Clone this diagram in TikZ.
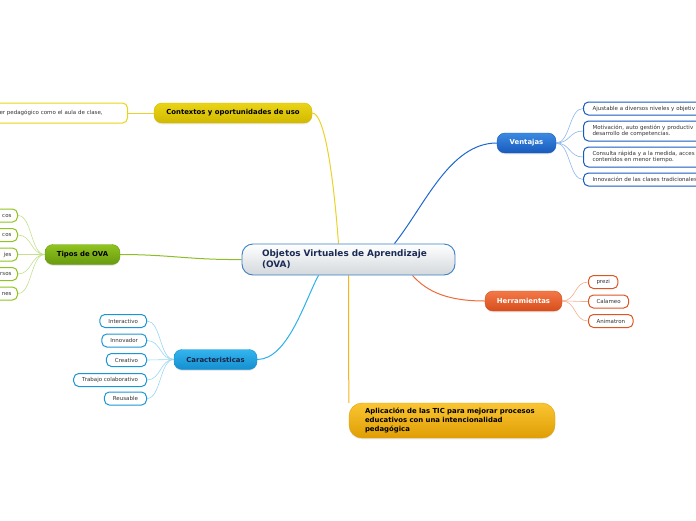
\documentclass[tikz,border=0pt]{standalone}
\usepackage{fontspec}
\setmainfont{DejaVu Sans}
\usetikzlibrary{backgrounds,shadows}

\definecolor{amarA}{HTML}{EAD417}
\definecolor{amarB}{HTML}{D2B900}
\definecolor{amarL}{HTML}{E9D32A}
\definecolor{verdeA}{HTML}{8FC41F}
\definecolor{verdeB}{HTML}{6A9A10}
\definecolor{verdeL}{HTML}{8DBE2A}
\definecolor{verdeF}{HTML}{C5E08F}
\definecolor{cianA}{HTML}{33B5EF}
\definecolor{cianB}{HTML}{158ECF}
\definecolor{cianL}{HTML}{2AB0EA}
\definecolor{cianF}{HTML}{9AD6F2}
\definecolor{azulA}{HTML}{3C8AE2}
\definecolor{azulB}{HTML}{185ABD}
\definecolor{azulL}{HTML}{1E66D0}
\definecolor{azulF}{HTML}{8DB6EA}
\definecolor{naranA}{HTML}{F47847}
\definecolor{naranB}{HTML}{D64E1C}
\definecolor{naranL}{HTML}{EE6A3A}
\definecolor{naranF}{HTML}{F5AE90}
\definecolor{oroA}{HTML}{F9C532}
\definecolor{oroB}{HTML}{E09E04}
\definecolor{oroL}{HTML}{F5B41A}
\definecolor{borde}{HTML}{3B7FC4}
\definecolor{grisC}{HTML}{D3D8DC}
\definecolor{tinta}{HTML}{1C2B55}

\begin{document}
\begin{tikzpicture}[x=1pt, y=-1pt,
  centro/.style={draw=borde, line width=0.9pt, rounded corners=11pt, top color=white, bottom color=grisC,
    minimum width=213pt, minimum height=31pt, text width=173pt, align=left, inner sep=0pt,
    font=\fontsize{8.9}{11}\selectfont\bfseries, text=tinta},
  rama/.style={rounded corners=8pt, minimum height=20pt, inner sep=0pt, line width=0.4pt,
    font=\fontsize{6.9}{9}\selectfont\bfseries,
    drop shadow={opacity=0.18, shadow xshift=0pt, shadow yshift=-1.3pt}},
  hoja/.style={draw, fill=white, rounded corners=5pt, line width=1pt, minimum height=13pt,
    inner xsep=8pt, inner ysep=1pt, font=\fontsize{5.5}{6.3}\selectfont, text=black!80},
  lazo/.style={line width=1pt},
  fino/.style={line width=0.6pt},
]
  % lienzo de 696 x 520, y hacia abajo
  \useasboundingbox (0,0) rectangle (696,520);

  \node[centro] (ova) at (348.5,259.5) {Objetos Virtuales de Aprendizaje\\(OVA)};

  % ramas
  \node[rama, top color=amarA, bottom color=amarB, draw=amarB, minimum width=158pt] (ctx) at (233,113)
       {Contextos y oportunidades de uso};
  \node[rama, top color=verdeA, bottom color=verdeB, draw=verdeB, minimum width=75pt] (tipos) at (82.5,254.5)
       {Tipos de OVA};
  \node[rama, top color=cianA, bottom color=cianB, draw=cianB, minimum width=83pt, text=tinta!80!black] (carac) at (215.5,359.5)
       {Caracteristicas};
  \node[rama, top color=azulA, bottom color=azulB, draw=azulB, minimum width=59pt, text=white] (vent) at (526.5,143)
       {Ventajas};
  \node[rama, top color=naranA, bottom color=naranB, draw=naranB, minimum width=77pt, text=white] (herr) at (523.5,301)
       {Herramientas};
  \node[rama, top color=oroA, bottom color=oroB, draw=oroB, minimum width=206pt, minimum height=35pt,
        rounded corners=13pt, text width=174pt, align=left] (aplic) at (452,420.5)
       {Aplicación de las TIC para mejorar procesos\\educativos con una intencionalidad\\pedagógica};

  % hojas (las de los bordes quedan cortadas)
  \node[hoja, draw=amarA, anchor=east, text width=119pt, align=left, inner xsep=9pt, minimum height=20pt] (ctx1)
       at (128,113) {er pedagógico como el aula de clase,};

  \foreach \y/\t [count=\i] in {215.5/cos, 235/cos, 254.5/jes, 274/rsos, 293.5/nes}
    \node[hoja, draw=verdeA, anchor=east, text width=40pt, align=right, inner xsep=6pt] (tipo\i) at (18,\y) {\t};

  \foreach \y/\t [count=\i] in {321/Interactivo, 340.5/Innovador, 360/Creativo, 380/Trabajo colaborativo, 398.5/Reusable}
    \node[hoja, draw=cianB!80!cianA, anchor=east, inner xsep=8.5pt] (car\i) at (147,\y) {\t};

  \node[hoja, draw=azulB, anchor=west, text width=130pt, align=left, inner xsep=9pt] (v1) at (583,108.5)
       {Ajustable a diversos niveles y objetiv};
  \node[hoja, draw=azulB, anchor=west, text width=130pt, align=left, inner xsep=9pt, minimum height=20pt] (v2) at (583,131)
       {Motivación, auto gestión y productiv\\desarrollo de competencias.};
  \node[hoja, draw=azulB, anchor=west, text width=130pt, align=left, inner xsep=9pt, minimum height=20pt] (v3) at (583,157)
       {Consulta rápida y a la medida, acces\\contenidos en menor tiempo.};
  \node[hoja, draw=azulB, anchor=west, text width=130pt, align=left, inner xsep=9pt] (v4) at (583,179.5)
       {Innovación de las clases tradicionales};

  \foreach \y/\t [count=\i] in {282/prezi, 301.5/Calameo, 321/Animatron}
    \node[hoja, draw=naranB!80!naranA, anchor=west] (h\i) at (588,\y) {\t};

  \begin{scope}[on background layer]
    \draw[lazo, draw=amarL] ([xshift=-10pt]ova.north) .. controls (333,170) and (324,113) .. (ctx.east);
    \draw[lazo, draw=verdeL] (ova.west) .. controls (190,260) and (170,254.5) .. (tipos.east);
    \draw[lazo, draw=cianL] ([xshift=-30pt]ova.south) .. controls (305,300) and (288,359.5) .. (carac.east);
    \draw[lazo, draw=azulL] ([xshift=46pt]ova.north) .. controls (425,205) and (450,143) .. (vent.west);
    \draw[lazo, draw=naranL] ([xshift=64pt]ova.south) .. controls (428,293) and (450,301) .. (herr.west);
    \draw[lazo, draw=oroL] (ova.south) -- (aplic.north west);

    \draw[fino, draw=amarL] (ctx.west) -- (ctx1.east);
    \foreach \i in {1,...,5}
      \draw[fino, draw=verdeF] (tipos.west) .. controls +(-14,0) and +(14,0) .. (tipo\i.east);
    \foreach \i in {1,...,5}
      \draw[fino, draw=cianF] (carac.west) .. controls +(-14,0) and +(14,0) .. (car\i.east);
    \foreach \i in {1,...,4}
      \draw[fino, draw=azulF] (vent.east) .. controls +(14,0) and +(-14,0) .. (v\i.west);
    \foreach \i in {1,2,3}
      \draw[fino, draw=naranF] (herr.east) .. controls +(14,0) and +(-14,0) .. (h\i.west);
  \end{scope}
\end{tikzpicture}
\end{document}
